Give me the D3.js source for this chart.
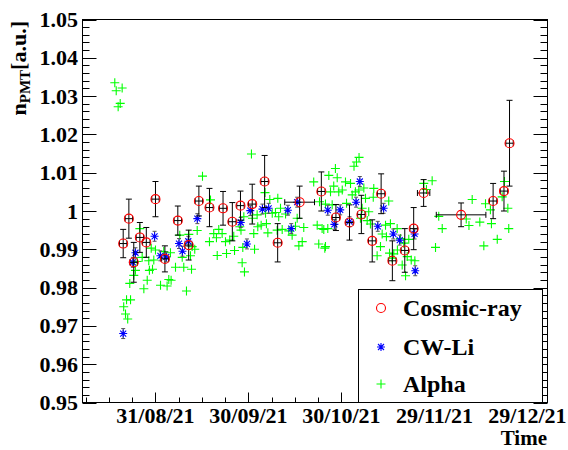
<!DOCTYPE html>
<html><head><meta charset="utf-8">
<script src="https://cdn.jsdelivr.net/npm/d3@7"></script>
<style>
body{margin:0;background:#fff}
</style>
</head><body>
<svg id="c" width="568" height="450"></svg>
<script>
// ---------------- data ----------------
const xTickLabels = ["31/08/21","30/09/21","30/10/21","29/11/21","29/12/21"];
const yTicks = [0.95,0.96,0.97,0.98,0.99,1.00,1.01,1.02,1.03,1.04,1.05];
const seriesNames = ["Cosmic-ray","CW-Li","Alpha"];

const cosmicTime = ["20/08/21 14","22/08/21 10","24/08/21 00","25/08/21 23","28/08/21 01","31/08/21 00","03/09/21 01","07/09/21 05","10/09/21 17","14/09/21 00","17/09/21 10","21/09/21 19","24/09/21 19","27/09/21 10","01/10/21 05","05/10/21 05","09/10/21 10","16/10/21 12","23/10/21 12","28/10/21 05","01/11/21 14","05/11/21 10","08/11/21 22","11/11/21 19","15/11/21 10","19/11/21 10","22/11/21 07","25/11/21 12","07/12/21 14","17/12/21 22","21/12/21 10","23/12/21 05"];
const cosmicValue = [0.9915,0.9980,0.9866,0.9931,0.9918,1.0031,0.9875,0.9975,0.9911,1.0026,1.0009,1.0007,0.9972,1.0014,1.0018,1.0077,0.9917,1.0023,1.0051,0.9983,0.9970,0.9991,0.9922,1.0045,0.9870,0.9897,0.9954,1.0047,0.9990,1.0026,1.0052,1.0177];
const cosmicError = [0.0037,0.0051,0.0052,0.0039,0.0039,0.0046,0.0034,0.0038,0.0039,0.0039,0.0050,0.0044,0.0050,0.0038,0.0052,0.0068,0.0050,0.0042,0.0051,0.0034,0.0046,0.0050,0.0055,0.0052,0.0052,0.0057,0.0055,0.0035,0.0031,0.0046,0.0052,0.0112];
const cosmicTimeError = [1.2,1.2,1.2,1.2,1.2,1.2,1.2,1.2,1.2,1.2,1.2,1.2,1.2,1.2,1.2,1.2,1.2,4.8,1.2,1.2,1.2,1.2,1.2,1.2,1.2,1.2,1.2,2.0,8.0,1.2,1.2,1.2];

const liTime = ["20/08/21 14","23/08/21 17","24/08/21 13","30/08/21 17","01/09/21 14","03/09/21 12","07/09/21 14","08/09/21 17","10/09/21 14","13/09/21 12","27/09/21 12","29/09/21 12","30/09/21 14","04/10/21 12","06/10/21 12","12/10/21 17","13/10/21 19","15/10/21 17","25/10/21 14","27/10/21 17","29/10/21 14","01/11/21 14","03/11/21 17","04/11/21 22","10/11/21 17","12/11/21 14","15/11/21 17","17/11/21 19","22/11/21 14","22/11/21 19"];
const liValue = [0.9680,0.9866,0.9891,0.9934,0.9883,0.9880,0.9915,0.9895,0.9921,0.9980,0.9970,0.9914,1.0001,1.0005,1.0007,1.0002,0.9954,1.0023,1.0002,0.9965,1.0003,0.9972,1.0023,1.0077,0.9960,1.0007,0.9940,0.9924,0.9940,0.9844];
const liError = 0.0013;

const alphaTime = [
"17/08/21 21","18/08/21 08","20/08/21 06","18/08/21 23","19/08/21 15",
"20/08/21 18","21/08/21 08","21/08/21 16","22/08/21 01","22/08/21 23",
"22/08/21 17","24/08/21 00","24/08/21 13","25/08/21 02","25/08/21 23",
"26/08/21 17","27/08/21 06","28/08/21 08","28/08/21 20","29/08/21 01",
"29/08/21 15","30/08/21 11","30/08/21 01","31/08/21 00","01/09/21 15",
"02/09/21 16","03/09/21 18","04/09/21 07","04/09/21 20","05/09/21 01",
"06/09/21 11","07/09/21 20","08/09/21 15","09/09/21 03","10/09/21 00",
"10/09/21 18","11/09/21 07","11/09/21 15","11/09/21 20","12/09/21 16",
"13/09/21 11","15/09/21 04","17/09/21 18","17/09/21 10","18/09/21 19",
"19/09/21 16","19/09/21 22","21/09/21 12","22/09/21 14","22/09/21 22",
"23/09/21 23","25/09/21 06","25/09/21 12","27/09/21 05","27/09/21 23",
"28/09/21 12","28/09/21 17","30/09/21 23","01/10/21 17","01/10/21 23",
"03/10/21 00","04/10/21 02","05/10/21 12","05/10/21 08","06/10/21 06",
"06/10/21 21","07/10/21 16","08/10/21 17","09/10/21 11","09/10/21 18",
"09/10/21 06","10/10/21 08","10/10/21 21","11/10/21 23","13/10/21 00",
"14/10/21 02","15/10/21 04","15/10/21 17","16/10/21 06","17/10/21 08",
"17/10/21 20","21/10/21 01","22/10/21 04","22/10/21 16","22/10/21 22",
"24/10/21 07","24/10/21 15","25/10/21 14","25/10/21 22",
"26/10/21 11","27/10/21 00","27/10/21 12","28/10/21 01","28/10/21 15","29/10/21 03",
"30/10/21 06","31/10/21 07","31/10/21 15",
"01/11/21 22","02/11/21 11","03/11/21 01","03/11/21 20","04/11/21 16","03/11/21 12","04/11/21 14",
"05/11/21 03","05/11/21 16","06/11/21 05","06/11/21 18","07/11/21 07","07/11/21 19","08/11/21 08",
"09/11/21 06","09/11/21 10","10/11/21 12","11/11/21 14","12/11/21 03","13/11/21 05","13/11/21 12",
"14/11/21 06","14/11/21 12","14/11/21 19","15/11/21 21","15/11/21 08","16/11/21 23","17/11/21 01",
"18/11/21 01","18/11/21 14","19/11/21 02","19/11/21 16","20/11/21 05","20/11/21 17","21/11/21 12","22/11/21 16",
"25/11/21 13","26/11/21 10","28/11/21 06","29/11/21 08","30/11/21 09","01/12/21 12",
"09/12/21 06","10/12/21 03","11/12/21 04","13/12/21 15","14/12/21 22","15/12/21 11","17/12/21 01","17/12/21 09",
"19/12/21 06","20/12/21 20","21/12/21 14","22/12/21 16","22/12/21 23",
"23/10/21 18","24/10/21 20",
"20/09/21 10","27/09/21 14","28/09/21 04","01/10/21 07","02/10/21 19","05/10/21 19","24/10/21 20"];
const alphaValue = [
1.0335,1.0314,1.0321,1.0272,1.0281,
0.9750,0.9731,0.9768,0.9718,0.9768,
0.9811,0.9832,0.9845,0.9868,0.9954,
0.9879,0.9797,0.9819,0.9870,0.9845,
0.9903,0.9872,0.9848,0.9898,0.9806,
0.9894,0.9804,0.9821,0.9891,0.9819,
0.9853,0.9937,0.9879,0.9853,0.9791,
0.9939,0.9883,0.9848,0.9907,0.9900,
0.9949,1.0091,1.0029,0.9920,0.9941,
0.9930,0.9884,0.9941,0.9920,0.9889,
0.9924,0.9934,0.9897,0.9959,0.9865,
0.9985,0.9841,1.0149,0.9941,0.9900,
0.9959,0.9963,0.9994,1.0048,0.9943,
1.0030,0.9994,0.9996,1.0033,0.9985,
0.9950,1.0007,0.9952,0.9992,0.9948,
0.9937,0.9960,0.9981,0.9909,0.9920,
0.9957,1.0076,0.9963,0.9914,1.0024,
0.9952,0.9903,0.9954,1.0093,
1.0050,1.0016,1.0065,1.0111,1.0087,1.0050,
1.0055,1.0076,1.0020,
1.0072,1.0042,1.0117,1.0128,1.0140,1.0050,1.0055,
0.9981,1.0007,1.0060,1.0033,0.9975,0.9998,0.9966,
1.0036,1.0059,0.9883,0.9907,0.9940,0.9963,0.9933,
1.0026,0.9890,0.9967,0.9888,0.9877,0.9954,0.9898,
0.9928,0.9859,0.9916,0.9831,0.9881,0.9926,0.9872,0.9870,
1.0072,1.0056,1.0079,0.9905,0.9986,0.9954,
0.9979,0.9962,1.0030,0.9971,0.9909,1.0019,1.0003,0.9967,
0.9926,1.0037,1.0077,1.0007,0.9954,
0.9954,0.9907,
0.9952,0.9950,0.9905,0.9981,0.9990,0.9967,1.0018];

// ---------------- chart ----------------
const FONT = "'Liberation Serif','Times New Roman',Times,'Nimbus Roman','Noto Serif','DejaVu Serif',serif";
const parse = d3.utcParse("%d/%m/%y %H");
const parseDay = d3.utcParse("%d/%m/%y");
const DAY = 864e5;
const L = 82.5, R = 547.5, T = 19.5, B = 402.5;

const x = d3.scaleUtc().domain([parse("07/08/21 11"), parse("04/01/22 11")]).range([L, R]);
const y = d3.scaleLinear().domain([0.95, 1.05]).range([B, T]);

const svg = d3.select("#c");
svg.append("rect").attr("width",568).attr("height",450).attr("fill","#fff");

const plot = svg.append("g");

// Alpha (+)
const alpha = alphaTime.map((t,i)=>({px:x(parse(t)), py:y(alphaValue[i])}));
plot.append("g").selectAll("path").data(alpha).join("path")
  .attr("d", d=>`M${d.px-4.5},${d.py}h9M${d.px},${d.py-4.5}v9`)
  .attr("stroke","#00ff00").attr("stroke-width",1.1).attr("fill","none");

// CW-Li (asterisk) with small error bars
const li = liTime.map((t,i)=>({px:x(parse(t)), py:y(liValue[i]), y0:y(liValue[i]-liError), y1:y(liValue[i]+liError)}));
const liG = plot.append("g");
liG.selectAll("path.e").data(li).join("path").attr("class","e")
  .attr("d", d=>`M${d.px},${d.y0}V${d.y1}M${d.px-2},${d.y0}h4M${d.px-2},${d.y1}h4`)
  .attr("stroke","#555").attr("stroke-width",1).attr("fill","none");
const starPath = (cx,cy)=>`M${cx-4},${cy}h8M${cx},${cy-4}v8M${cx-3},${cy-3}l6,6M${cx-3},${cy+3}l6,-6`;
liG.selectAll("path.m").data(li).join("path").attr("class","m")
  .attr("d", d=>starPath(d.px,d.py))
  .attr("stroke","#0000ff").attr("stroke-width",1.1).attr("fill","none");

// Cosmic-ray (open circle) with error bars
const cos = cosmicTime.map((t,i)=>{
  const tt = parse(t);
  return {px:x(tt), py:y(cosmicValue[i]),
    y0:y(cosmicValue[i]-cosmicError[i]), y1:y(cosmicValue[i]+cosmicError[i]),
    x0:x(new Date(+tt - cosmicTimeError[i]*DAY)), x1:x(new Date(+tt + cosmicTimeError[i]*DAY))};
});
const cG = plot.append("g");
cG.selectAll("path.e").data(cos).join("path").attr("class","e")
  .attr("d", d=>`M${d.px},${d.y0}V${d.y1}M${d.px-3},${d.y0}h6M${d.px-3},${d.y1}h6`+
                `M${d.x0},${d.py}H${d.x1}M${d.x0},${d.py-3}v6M${d.x1},${d.py-3}v6`)
  .attr("stroke","#000").attr("stroke-width",1).attr("fill","none");
cG.selectAll("circle").data(cos).join("circle")
  .attr("cx",d=>d.px).attr("cy",d=>d.py).attr("r",4.5)
  .attr("fill","none").attr("stroke","#ff0000").attr("stroke-width",1.1);

// ---------------- axes ----------------
const ax = svg.append("g").attr("stroke","#000").attr("stroke-width",1).attr("fill","none");
const yMinor = d3.range(0, 51).map(i => 0.95 + i*0.002);
yMinor.forEach(v=>{
  const py = Math.round(y(v)) + 0.5;
  const major = yTicks.some(t=>Math.abs(t-v)<1e-6);
  const len = major ? 14 : 7;
  ax.append("path").attr("d",`M${L},${py}h${len}M${R},${py}h${-len}`);
});
const majors = xTickLabels.map(s=>parseDay(s));
const first = +majors[0];
d3.range(-4, 18).forEach(k=>{
  const t = new Date(first + k*7.5*DAY);
  if (t < x.domain()[0] || t > x.domain()[1]) return;
  const px = Math.round(x(t)) + 0.5;
  const len = (k % 4 === 0) ? 10 : 5;
  ax.append("path").attr("d",`M${px},${B}v${-len}`);
});
ax.append("rect").attr("x",L).attr("y",T).attr("width",R-L).attr("height",B-T);

// text helper
const txt = (sel)=>sel.style("font-family",FONT).style("font-weight","bold").attr("fill","#000");

// tick labels
svg.append("g").selectAll("text").data(yTicks).join("text")
  .call(txt)
  .attr("x",78).attr("y",d=>y(d)+7.5).attr("text-anchor","end").attr("font-size",22)
  .text(d=>Math.abs(d-1)<1e-9 ? "1" : d.toFixed(2));
svg.append("g").selectAll("text").data(xTickLabels).join("text")
  .call(txt)
  .attr("x",d=>x(parseDay(d))).attr("y",423).attr("text-anchor","middle").attr("font-size",22)
  .text(d=>d);

// axis titles
svg.append("text").call(txt).attr("x",547).attr("y",445).attr("text-anchor","end").attr("font-size",21).text("Time");
const yt = svg.append("text").call(txt).attr("transform","translate(26,21) rotate(-90)")
  .attr("text-anchor","end").attr("font-size",22);
yt.append("tspan").text("n");
yt.append("tspan").attr("font-size",15).attr("dy",4).text("PMT");
yt.append("tspan").attr("dy",-4).text("[a.u.]");

// ---------------- legend ----------------
const lg = svg.append("g");
lg.append("rect").attr("x",358.5).attr("y",289.5).attr("width",184).attr("height",113)
  .attr("fill","#fff").attr("stroke","#000").attr("stroke-width",1);
const ly = [308, 347, 384];
lg.append("circle").attr("cx",381).attr("cy",ly[0]).attr("r",4.5).attr("fill","none").attr("stroke","#ff0000").attr("stroke-width",1.1);
lg.append("path").attr("d",starPath(381,ly[1])).attr("stroke","#0000ff").attr("stroke-width",1.1).attr("fill","none");
lg.append("path").attr("d",`M${381-4.5},${ly[2]}h9M381,${ly[2]-4.5}v9`).attr("stroke","#00ff00").attr("stroke-width",1.1).attr("fill","none");
lg.selectAll("text").data(seriesNames).join("text").call(txt)
  .attr("x",403).attr("y",(d,i)=>ly[i]+8).attr("font-size",24).text(d=>d);
</script>
</body></html>
